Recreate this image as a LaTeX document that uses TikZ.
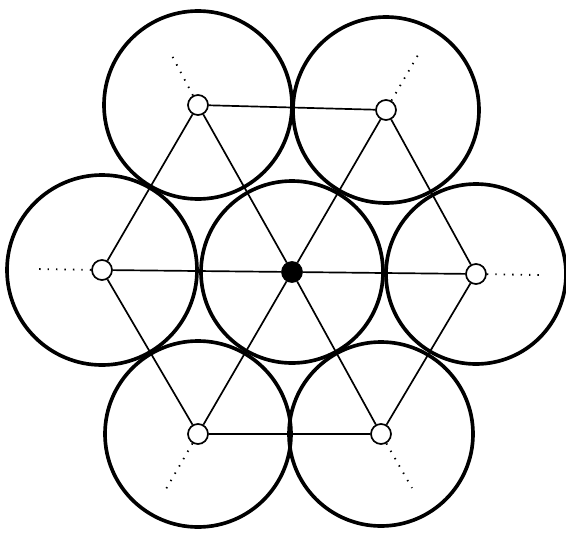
\documentclass[tikz,border=0pt]{standalone}
\begin{document}
\begin{tikzpicture}[x=0.025cm,y=-0.025cm,
    ball/.style={line width=2.6pt},
    site/.style={circle,draw,fill=white,line width=1.2pt,inner sep=0pt,minimum size=0.5cm},
    link/.style={line width=1.2pt},
    ray/.style={line width=1.3pt,dash pattern=on 1pt off 5pt}]
\useasboundingbox (0,0) rectangle (566,533);
    \draw[ball] (292,272) circle (91);
    \draw[ball] (198,105) circle (94);
    \draw[ball] (386,110) circle (93);
    \draw[ball] (102,270) circle (95);
    \draw[ball] (476,274) circle (90);
    \draw[ball] (198,434) circle (93);
    \draw[ball] (381,434) circle (92);
    \node[site,fill=black](O) at (292,272){};
    \node[site](P1) at (198,105){};
    \node[site](P2) at (386,110){};
    \node[site](P3) at (102,270){};
    \node[site](P4) at (476,274){};
    \node[site](P5) at (198,434){};
    \node[site](P6) at (381,434){};
    \coordinate(Q1) at (170,52);
    \coordinate(Q2) at (418,55);
    \coordinate(Q3) at (35,269);
    \coordinate(Q4) at (539,275);
    \coordinate(Q5) at (166,489);
    \coordinate(Q6) at (412,488);
    \draw[link](P1)--(P2) (P2)--(P4) (P4)--(P6) (P6)--(P5) (P5)--(P3) (P3)--(P1);
    \draw[link](P1)--(O)--(P6) (P2)--(O)--(P5) (P3)--(O)--(P4);
    \draw[ray](P1)--(Q1) (P2)--(Q2) (P3)--(Q3) (P4)--(Q4) (P5)--(Q5) (P6)--(Q6);
\end{tikzpicture}
\end{document}
